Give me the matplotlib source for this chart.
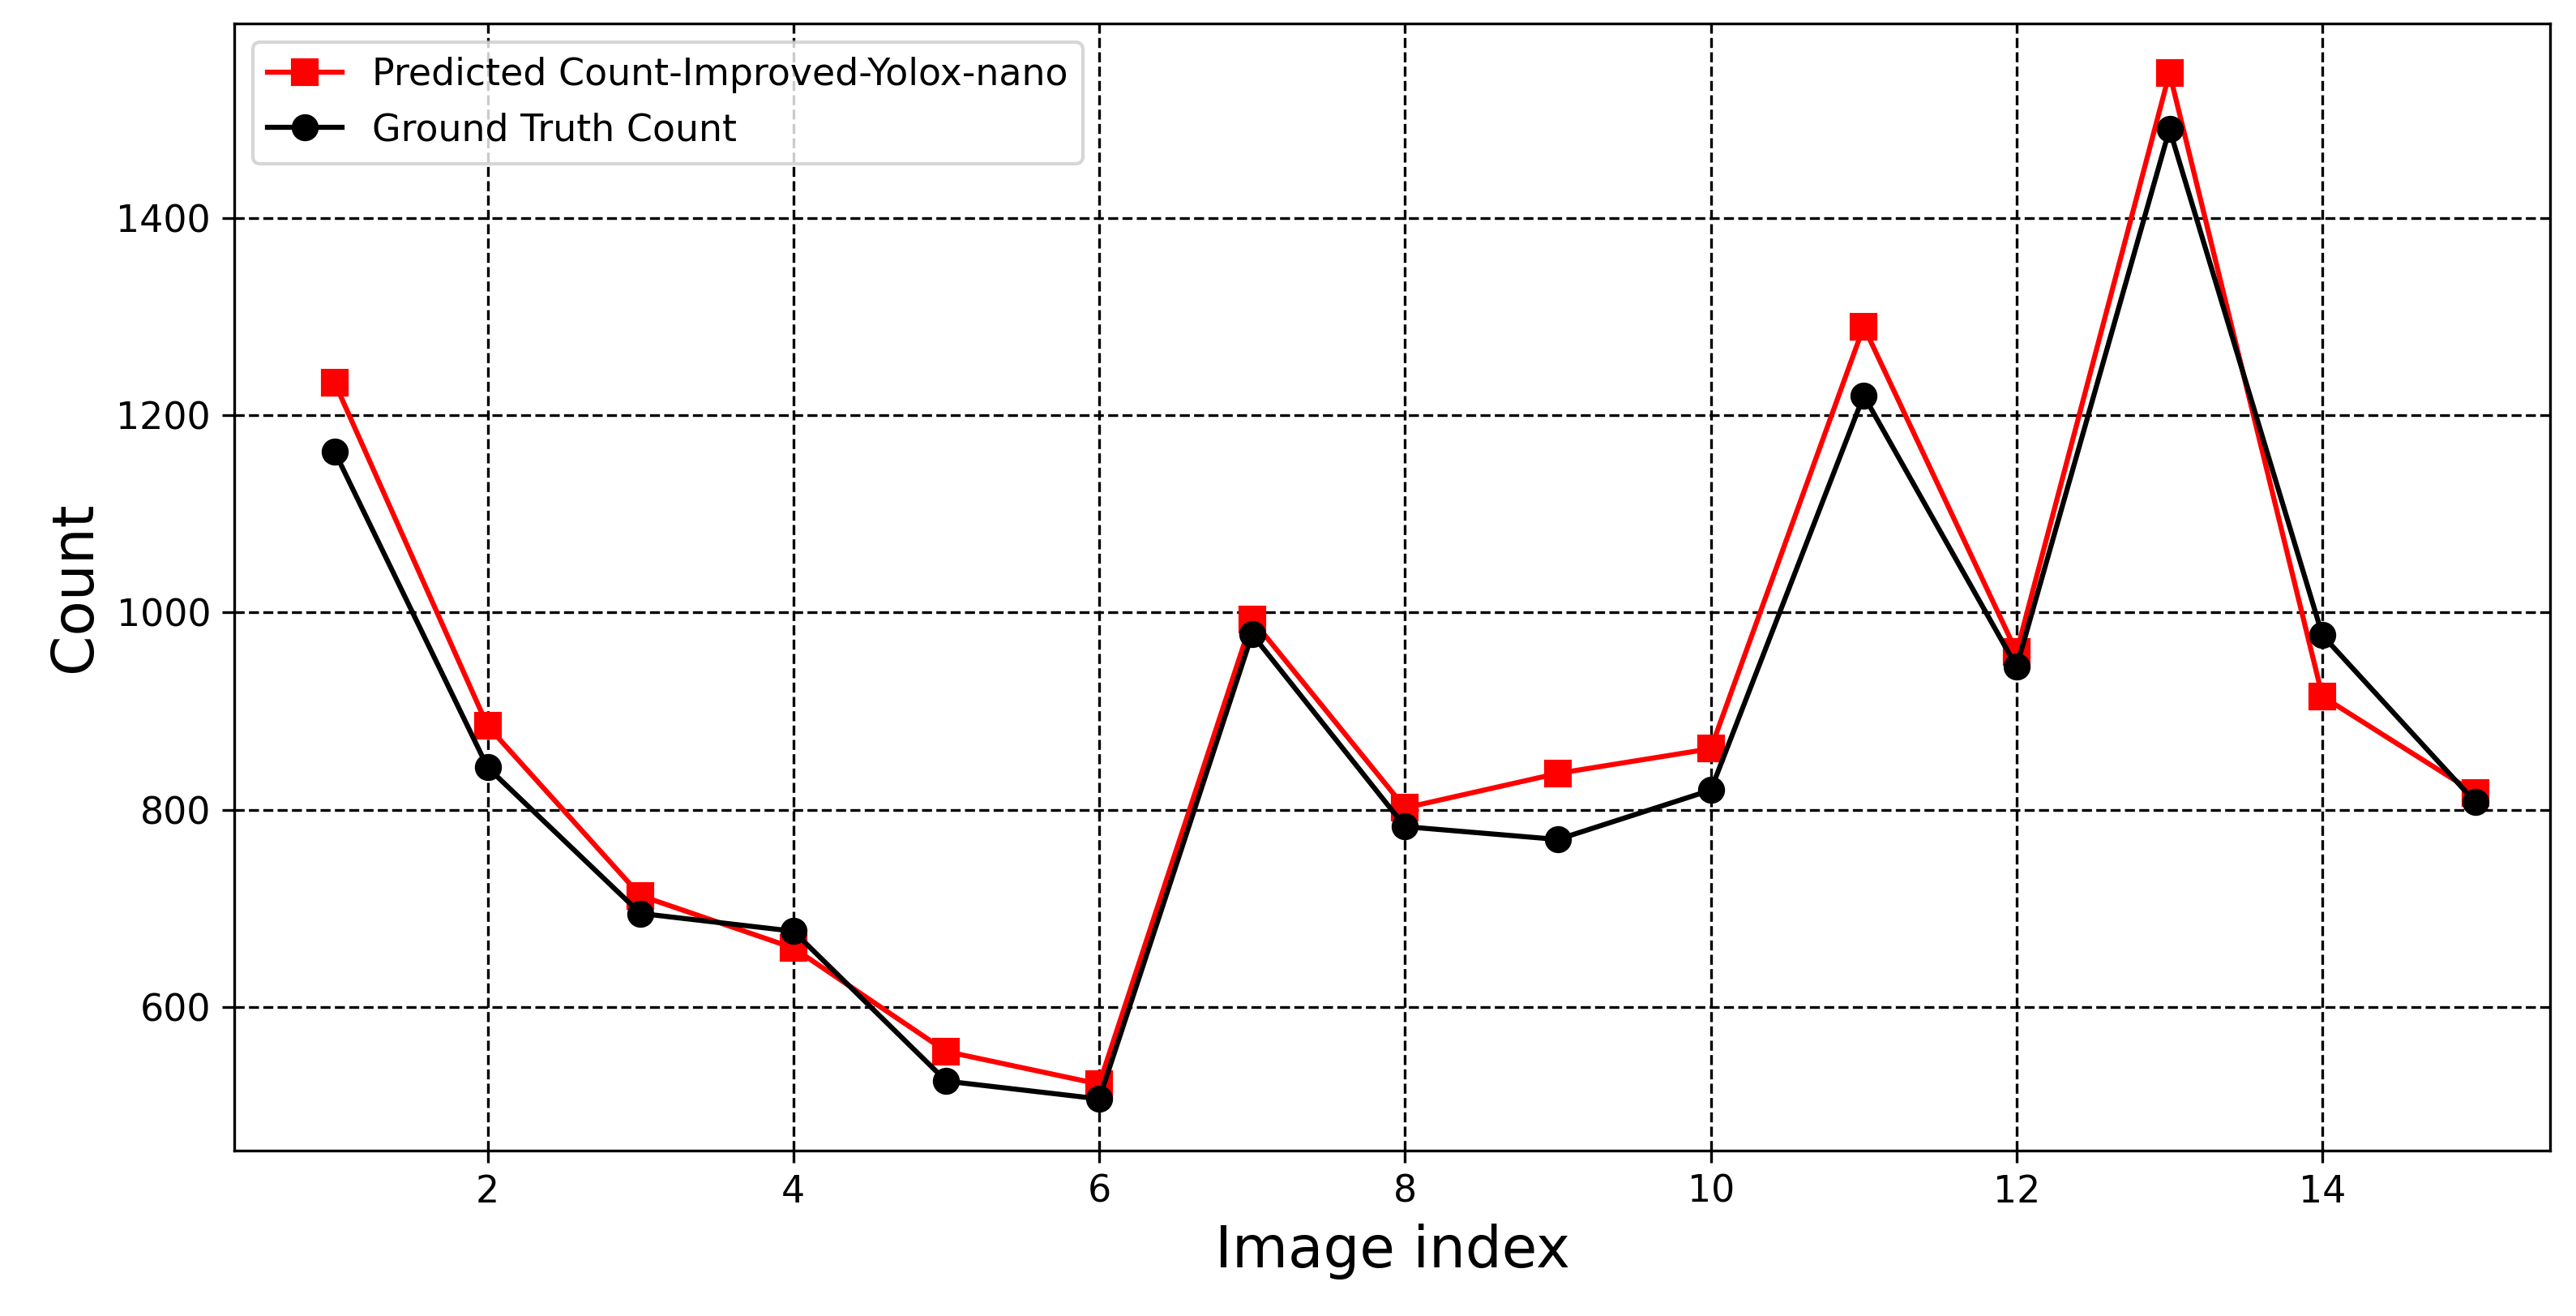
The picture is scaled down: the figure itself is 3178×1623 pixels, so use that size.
import matplotlib
matplotlib.use("Agg")
import matplotlib.pyplot as plt

idx = list(range(1, 16))
pred = [1233, 885, 713, 660, 555, 522, 993, 802, 837, 862, 1290, 960, 1547, 915, 817]
gt = [1163, 843, 695, 677, 525, 507, 978, 783, 770, 820, 1220, 945, 1490, 977, 808]

fig = plt.figure(figsize=(3178/300, 1623/300), dpi=300)
ax = fig.add_axes([0.091, 0.126, 0.899, 0.856])
ax.plot(idx, pred, color='red', marker='s', markersize=7, linewidth=1.5,
        label='Predicted Count-Improved-Yolox-nano')
ax.plot(idx, gt, color='black', marker='o', markersize=7, linewidth=1.5,
        label='Ground Truth Count')
ax.set_xlim(0.344, 15.49)
ax.set_ylim(455, 1597)
ax.set_xticks([2, 4, 6, 8, 10, 12, 14])
ax.set_yticks([600, 800, 1000, 1200, 1400])
ax.grid(True, linestyle='--', color='black', linewidth=0.8)
ax.set_xlabel('Image index', fontsize=17)
ax.set_ylabel('Count', fontsize=17)
ax.tick_params(labelsize=11)
ax.legend(loc='upper left', fontsize=11)
fig.savefig('out.png', dpi=300)
